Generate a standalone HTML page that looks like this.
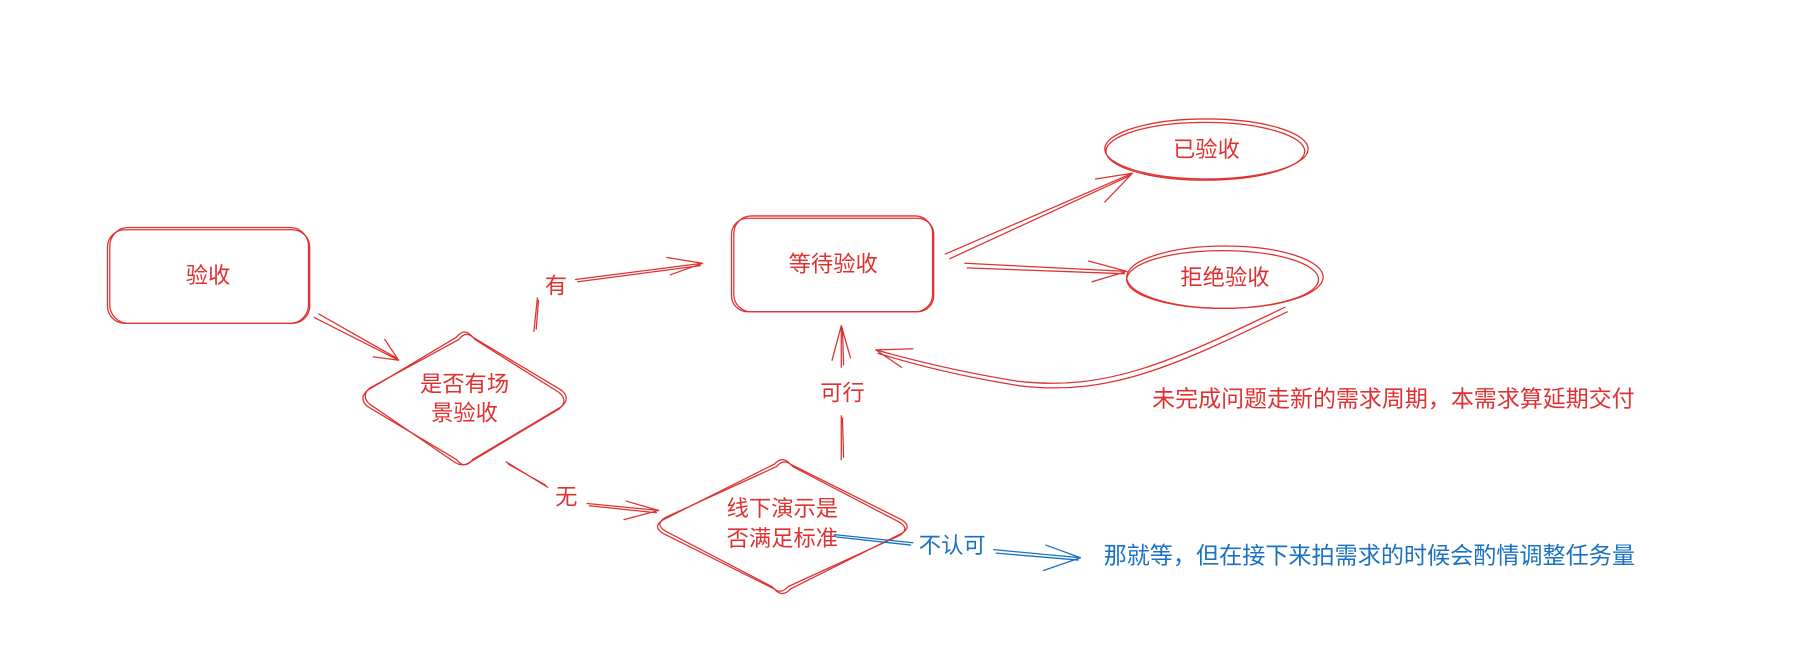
<!DOCTYPE html>
<html><head><meta charset="utf-8"><style>
html,body{margin:0;padding:0;background:#fff;width:1812px;height:664px;overflow:hidden}
svg{display:block}
text{font-family:"Liberation Sans","Noto Sans CJK SC",sans-serif;font-size:19.3px}
</style></head><body>
<svg width="1812" height="664" viewBox="0 0 1568 575" preserveAspectRatio="none" xmlns="http://www.w3.org/2000/svg">
<g fill="none" stroke="#e03131" stroke-width="1.1" stroke-linecap="round">
<rect x="93" y="199" width="175" height="81" rx="15"/>
<rect x="95" y="197" width="172" height="83" rx="16"/>
<rect x="633" y="189" width="175" height="81" rx="14"/>
<rect x="635" y="187" width="172" height="83" rx="15"/>
<ellipse cx="1044" cy="129" rx="88" ry="26"/>
<ellipse cx="1043" cy="131" rx="86" ry="25"/>
<ellipse cx="1060" cy="240" rx="85" ry="27"/>
<ellipse cx="1058" cy="242" rx="83" ry="25"/>
<path d="M395 292 Q402 283 409 292 L486 338 Q494 345 486 352 L409 398 Q402 407 395 398 L318 352 Q310 345 318 338 Z" stroke-linejoin="round"/>
<path d="M397 294 Q404 285 411 294 L484 340 Q492 347 484 354 L407 400 Q400 405 393 400 L320 350 Q312 343 320 336 Z" stroke-linejoin="round"/>
<path d="M670 402 Q677 394 684 402 L780 450 Q790 456 780 462 L684 510 Q677 518 670 510 L574 462 Q564 456 574 450 Z" stroke-linejoin="round"/>
<path d="M672 404 Q679 396 686 404 L778 452 Q788 458 778 464 L682 508 Q675 516 668 508 L576 460 Q566 454 576 448 Z" stroke-linejoin="round"/>
<path d="M272 275 L345 312 M276 272 L343 310 M345 312 L323 309 M345 312 L333 294"/>
<path d="M462 287 L465 258 M464 285 L466 260"/>
<path d="M498 242 L608 228 M500 244 L606 230 M608 228 L577 223 M608 228 L580 238"/>
<path d="M438 400 L474 422 M440 402 L472 420"/>
<path d="M508 436 L570 442 M510 438 L568 444 M570 442 L542 434 M570 442 L540 450"/>
<path d="M728 398 L728 360 M730 396 L729 362"/>
<path d="M728 318 L728 282 M730 316 L729 284 M728 282 L720 312 M728 282 L736 310"/>
<path d="M818 220 L980 150 M822 224 L978 152 M980 150 L948 155 M980 150 L956 175"/>
<path d="M835 228 L975 235 M837 232 L973 237 M975 235 L942 226 M975 235 L945 244"/>
<path d="M1112 266 C1020 310 960 340 880 330 C830 322 790 312 758 303"/>
<path d="M1114 270 C1022 314 962 344 882 334 C832 326 792 316 760 306"/>
<path d="M758 303 L790 302 M758 303 L780 318"/>
</g>
<g fill="none" stroke="#1971c2" stroke-width="1.1" stroke-linecap="round">
<path d="M722 463 L790 470 M724 465 L788 472"/>
<path d="M860 476 L935 483 M862 479 L933 485 M935 483 L905 472 M935 483 L903 494"/>
</g>
<g fill="#e03131" text-anchor="middle">
<text x="180" y="245">验收</text>
<text x="721" y="235">等待验收</text>
<text x="1044" y="136">已验收</text>
<text x="1060" y="247">拒绝验收</text>
<text x="402" y="339">是否有场</text>
<text x="402" y="364">景验收</text>
<text x="677" y="447">线下演示是</text>
<text x="677" y="473">否满足标准</text>
<text x="481" y="254">有</text>
<text x="490" y="437">无</text>
<text x="729" y="347">可行</text>
<text x="997" y="352" text-anchor="start" style="font-size:19.9px">未完成问题走新的需求周期，本需求算延期交付</text>
</g>
<g fill="#1971c2">
<text x="824" y="479" text-anchor="middle">不认可</text>
<text x="955" y="488" style="font-size:20px">那就等，但在接下来拍需求的时候会酌情调整任务量</text>
</g>
</svg>
</body></html>
